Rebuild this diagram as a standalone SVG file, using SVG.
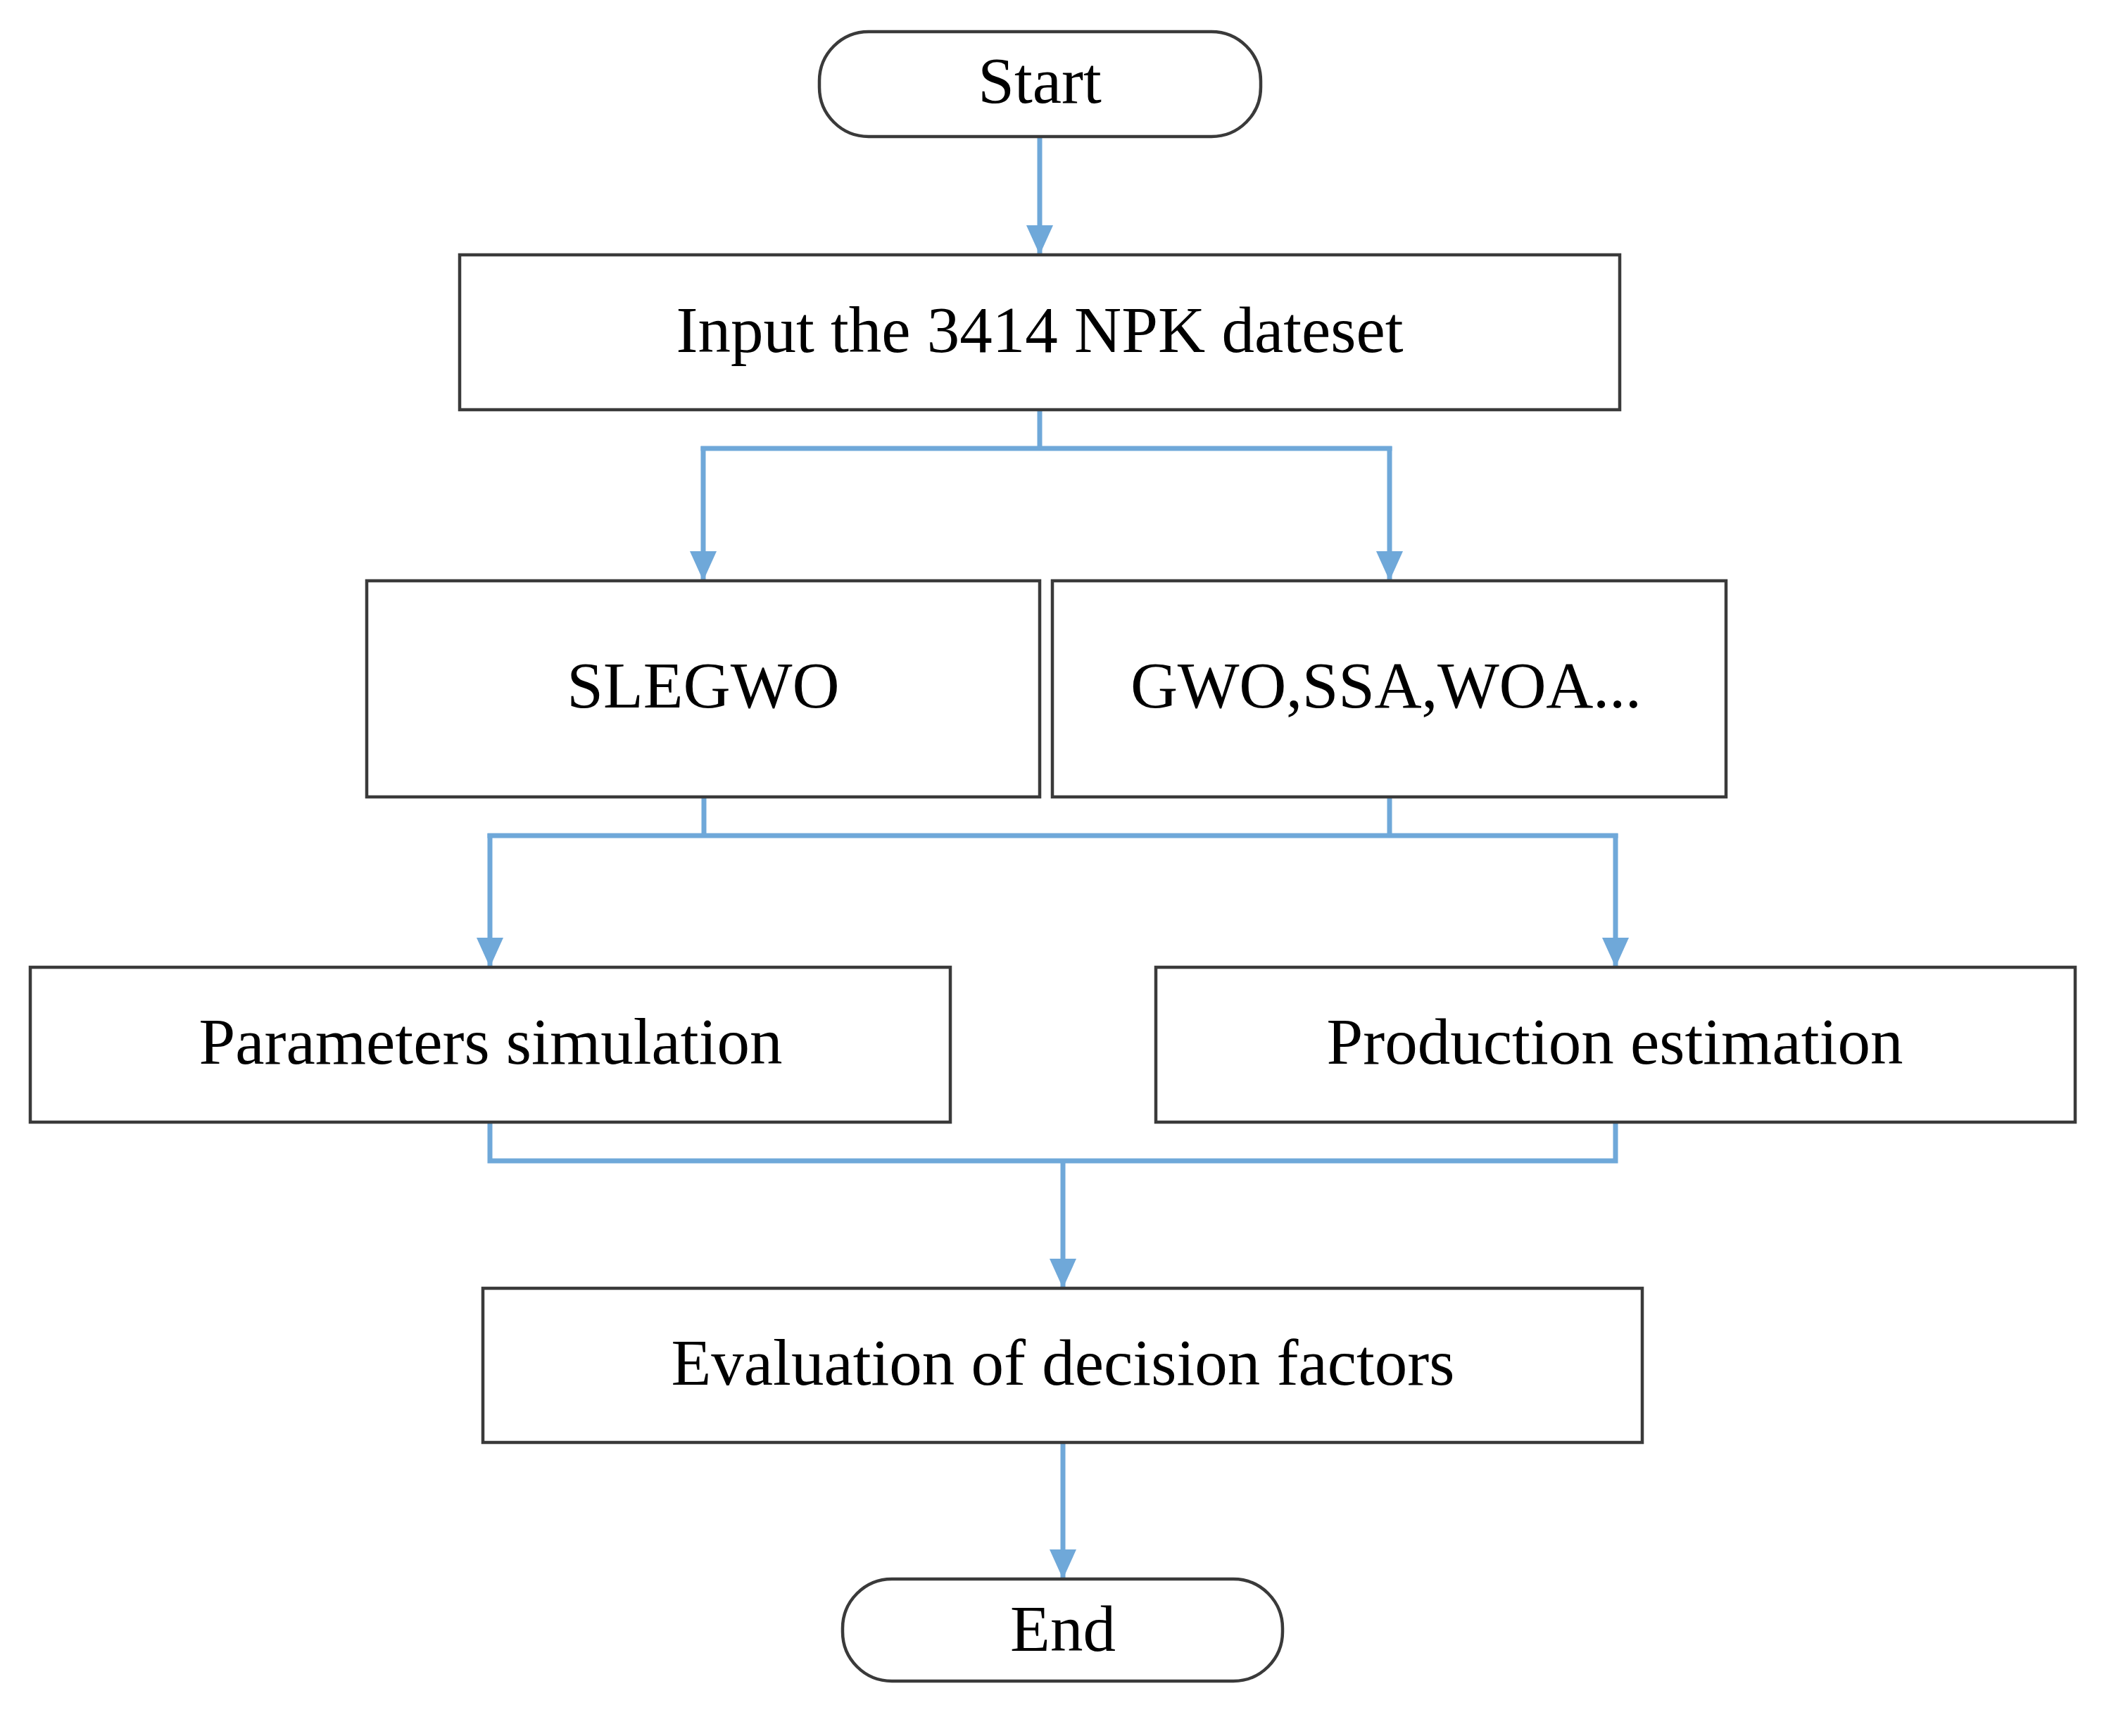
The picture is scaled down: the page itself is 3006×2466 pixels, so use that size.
<svg xmlns="http://www.w3.org/2000/svg" width="3006" height="2466" viewBox="0 0 3006 2466">
<style>
.box{fill:#ffffff;stroke:#3a3a3a;stroke-width:4.5}
.lbl{font-family:"Liberation Serif","Times New Roman",serif;font-size:93px;fill:#000000;text-anchor:middle}
.con{fill:none;stroke:#6fa8d9;stroke-width:7;stroke-linejoin:miter}
</style>
<defs>
<marker id="arr" markerUnits="userSpaceOnUse" markerWidth="42" markerHeight="38" refX="42" refY="19" orient="auto">
<path d="M0,0 L42,19 L0,38 Z" fill="#6fa8d9"/>
</marker>
</defs>
<rect width="3006" height="2466" fill="#ffffff"/>
<g id="connectors">
<path class="con" d="M1477,194 L1477,362" marker-end="url(#arr)"/>
<path class="con" d="M1477,582 L1477,637"/>
<path class="con" d="M995.5,637 L1977.5,637"/>
<path class="con" d="M999,634 L999,825" marker-end="url(#arr)"/>
<path class="con" d="M1974,634 L1974,825" marker-end="url(#arr)"/>
<path class="con" d="M1000,1132 L1000,1187"/>
<path class="con" d="M1974,1132 L1974,1187"/>
<path class="con" d="M692.5,1187 L2298.5,1187"/>
<path class="con" d="M696,1184 L696,1374" marker-end="url(#arr)"/>
<path class="con" d="M2295,1184 L2295,1374" marker-end="url(#arr)"/>
<path class="con" d="M696,1594 L696,1649 L2295,1649 L2295,1594"/>
<path class="con" d="M1510,1649 L1510,1830" marker-end="url(#arr)"/>
<path class="con" d="M1510,2049 L1510,2243" marker-end="url(#arr)"/>
</g>
<g id="start">
<rect class="box" x="1164" y="45" width="627" height="149" rx="70" ry="70"/>
<text class="lbl" x="1477" y="146">Start</text>
</g>
<g id="input">
<rect class="box" x="653" y="362" width="1648" height="220"/>
<text class="lbl" x="1477" y="500">Input the 3414 NPK dateset</text>
</g>
<g id="slegwo">
<rect class="box" x="521" y="825" width="956" height="307"/>
<text class="lbl" x="999" y="1005">SLEGWO</text>
</g>
<g id="others">
<rect class="box" x="1495" y="825" width="957" height="307"/>
<text class="lbl" x="1969" y="1005" textLength="726" lengthAdjust="spacing">GWO,SSA,WOA...</text>
</g>
<g id="params">
<rect class="box" x="43" y="1374" width="1307" height="220"/>
<text class="lbl" x="697" y="1511">Parameters simulation</text>
</g>
<g id="production">
<rect class="box" x="1642" y="1374" width="1306" height="220"/>
<text class="lbl" x="2294" y="1511">Production estimation</text>
</g>
<g id="evaluation">
<rect class="box" x="686" y="1830" width="1647" height="219"/>
<text class="lbl" x="1510" y="1967">Evaluation of decision factors</text>
</g>
<g id="end">
<rect class="box" x="1197" y="2243" width="625" height="145" rx="70" ry="70"/>
<text class="lbl" x="1510" y="2345">End</text>
</g>
</svg>
